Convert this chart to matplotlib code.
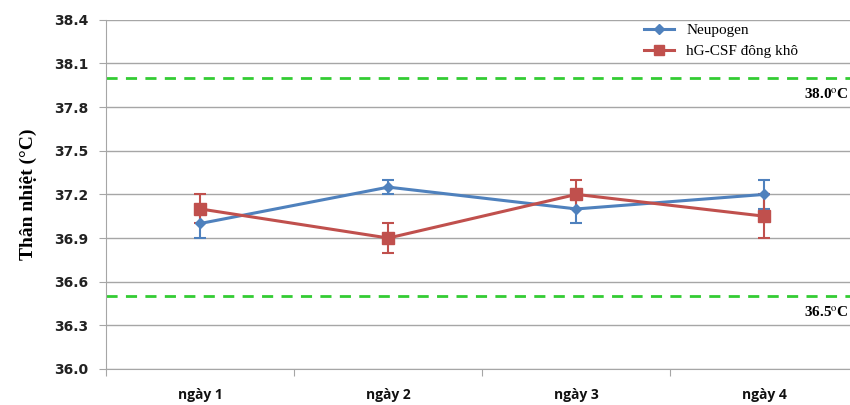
import numpy as np
import matplotlib.pyplot as plt
from matplotlib.lines import Line2D
from matplotlib.ticker import FixedLocator, NullFormatter

days = ["ngày 1", "ngày 2", "ngày 3", "ngày 4"]
neupogen = [37.0, 37.25, 37.1, 37.2]
neupogen_err = [0.1, 0.05, 0.1, 0.1]
hgcsf = [37.1, 36.9, 37.2, 37.05]
hgcsf_err = [0.1, 0.1, 0.1, 0.15]
upper_limit = 38.0
lower_limit = 36.5
yticks = [36.0, 36.3, 36.6, 36.9, 37.2, 37.5, 37.8, 38.1, 38.4]

blue = "#4F81BD"
red = "#C0504D"
green = "#33CC33"
grid_col = "#A6A6A6"

plt.rcParams["mathtext.fontset"] = "stix"

fig = plt.figure(figsize=(8.5, 4.05), dpi=100)
ax = fig.add_axes([0.125, 0.089, 0.885, 0.862])

x = np.arange(len(days))
ax.set_xlim(-0.5, len(days) - 0.5)
ax.set_ylim(yticks[0], yticks[-1])

ax.set_yticks(yticks)
ax.yaxis.grid(True, color=grid_col, lw=1)
ax.set_axisbelow(True)
ax.set_yticklabels([f"{v:.1f}" for v in yticks], fontfamily="DejaVu Sans",
                   fontweight="bold", fontsize=10, color="#222222")

# category boundaries carry the tick marks, labels sit between them
ax.xaxis.set_major_locator(FixedLocator(np.arange(-0.5, len(days), 1.0)))
ax.xaxis.set_major_formatter(NullFormatter())
ax.set_xticks(x, minor=True)
ax.set_xticklabels(days, minor=True, fontfamily="Open Sans", fontweight="bold",
                   fontsize=10, color="#111111")
ax.tick_params(axis="x", which="minor", length=0, pad=14)
ax.tick_params(axis="x", which="major", length=5, color=grid_col)
ax.tick_params(axis="y", length=5, color=grid_col, pad=8)

for side in ["top", "right"]:
    ax.spines[side].set_visible(False)
for side in ["left", "bottom"]:
    ax.spines[side].set_color(grid_col)

ax.axhline(upper_limit, color=green, ls=(0, (4, 3)), lw=2, zorder=2)
ax.axhline(lower_limit, color=green, ls=(0, (4, 3)), lw=2, zorder=2)
for lim in [upper_limit, lower_limit]:
    ax.text(0.999, ax.transData.transform((0, lim - 0.065))[1] / fig.bbox.height,
            f"{lim:.1f}$^{{\\mathrm{{o}}}}$C", transform=fig.transFigure,
            ha="right", va="top", fontfamily="Liberation Serif",
            fontweight="bold", fontsize=11)

ax.errorbar(x, neupogen, yerr=neupogen_err, color=blue, lw=2.2, marker="D", ms=5,
            capsize=4, elinewidth=1.5, capthick=1.5, zorder=3)
ax.errorbar(x, hgcsf, yerr=hgcsf_err, color=red, lw=2.2, marker="s", ms=8,
            capsize=4, elinewidth=1.5, capthick=1.5, zorder=3)

ax.set_ylabel("Thân nhiệt (°C)", fontfamily="Liberation Serif", fontweight="bold",
              fontsize=14, labelpad=12)

handles = [Line2D([], [], color=blue, lw=2.2, marker="D", ms=5),
           Line2D([], [], color=red, lw=2.2, marker="s", ms=7)]
ax.legend(handles, ["Neupogen", "hG-CSF đông khô"], loc="upper left",
          bbox_to_anchor=(0.698, 1.025), frameon=False,
          prop={"family": "Liberation Serif", "size": 11},
          handlelength=2.0, handletextpad=0.8, borderpad=0.3, labelspacing=0.5)

fig.savefig("out.png", dpi=100)
